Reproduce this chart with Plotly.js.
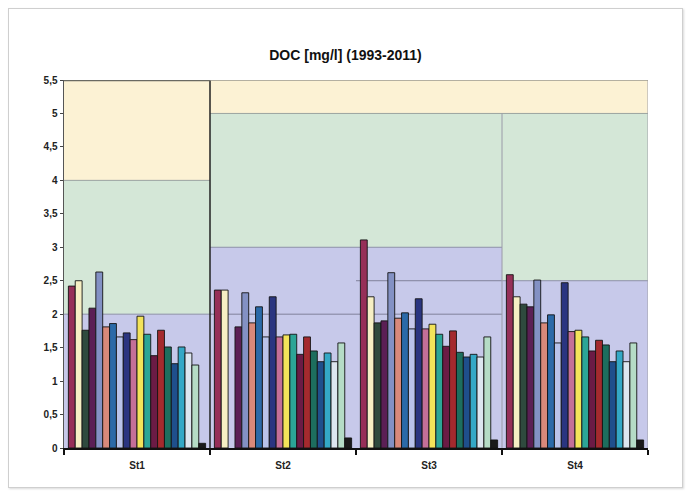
<!DOCTYPE html>
<html>
<head>
<meta charset="utf-8">
<script src="https://cdn.plot.ly/plotly-3.0.1.min.js"></script>
<style>
  html, body { margin: 0; padding: 0; background: #fff; }
  #wrap { position: relative; width: 691px; height: 497px; }
  #chart { position: absolute; left: 0; top: 0; width: 691px; height: 497px; }
  #frame { position: absolute; left: 8px; top: 8px; width: 673px; height: 478px;
           border: 1px solid #cfcfcf; box-shadow: 1px 1px 2px rgba(0,0,0,0.15); pointer-events: none; }
</style>
</head>
<body>
<div id="wrap"><div id="chart"></div><div id="frame"></div></div>
<script>
// ---- data ----
const categories = ['St1', 'St2', 'St3', 'St4'];
const seriesNames = ['Serie 1','Serie 2','Serie 3','Serie 4','Serie 5','Serie 6','Serie 7','Serie 8','Serie 9','Serie 10',
                     'Serie 11','Serie 12','Serie 13','Serie 14','Serie 15','Serie 16','Serie 17','Serie 18','Serie 19','Serie 20'];
const seriesColors = ['#962f58','#f6efc4','#2f4a3e','#5b1f55','#8391c4','#d9897a','#2b6aa8','#b9c3ea','#2a3580','#c46f98',
                      '#f3e35a','#2ca597','#6b1b45','#a42a2e','#1d6e5e','#1f4f8c','#34a8c6','#dde6f0','#b5dcc6','#1a1a1a'];
const valuesSt1 = [2.42, 2.50, 1.76, 2.09, 2.63, 1.81, 1.86, 1.66, 1.72, 1.62, 1.97, 1.70, 1.38, 1.76, 1.51, 1.26, 1.51, 1.42, 1.24, 0.07];
const valuesSt2 = [2.36, 2.36, null, 1.81, 2.32, 1.87, 2.11, 1.66, 2.26, 1.66, 1.69, 1.70, 1.40, 1.66, 1.45, 1.29, 1.42, 1.29, 1.57, 0.15];
const valuesSt3 = [3.11, 2.26, 1.87, 1.90, 2.62, 1.94, 2.02, 1.78, 2.23, 1.78, 1.85, 1.70, 1.52, 1.75, 1.43, 1.36, 1.40, 1.36, 1.66, 0.12];
const valuesSt4 = [2.59, 2.26, 2.15, 2.11, 2.51, 1.87, 1.99, 1.57, 2.47, 1.74, 1.76, 1.66, 1.45, 1.61, 1.54, 1.29, 1.45, 1.29, 1.57, 0.12];
// quality class bands per station (lower limits)
const yellowFrom = [4, 5, 5, 5];
const greenFrom  = [2, 3, 3, 2.5];
const bandTop = 5.5;
// extra reference lines
const refLineGroup = [1, 2, 2];
const refLineValue = [2, 2, 2.5];
const yTickVals = [0,0.5,1,1.5,2,2.5,3,3.5,4,4.5,5,5.5];

// ---- traces ----
const stationValues = [valuesSt1, valuesSt2, valuesSt3, valuesSt4];
const traces = seriesNames.map((name, i) => ({
  type: 'bar',
  name: name,
  x: categories,
  y: stationValues.map(v => v[i]),
  marker: { color: seriesColors[i], line: { color: 'rgba(20,20,20,0.9)', width: 1 } },
  hoverinfo: 'x+y+name'
}));

// ---- background shapes ----
const shapes = [];
categories.forEach((c, g) => {
  const x0 = g - 0.5, x1 = g + 0.5;
  shapes.push({type:'rect', xref:'x', yref:'y', x0, x1, y0:0, y1:greenFrom[g], fillcolor:'#c7c9ea', line:{width:0}, layer:'below'});
  shapes.push({type:'rect', xref:'x', yref:'y', x0, x1, y0:greenFrom[g], y1:yellowFrom[g], fillcolor:'#d4e7d7', line:{width:0}, layer:'below'});
  shapes.push({type:'rect', xref:'x', yref:'y', x0, x1, y0:yellowFrom[g], y1:bandTop, fillcolor:'#fcf2d4', line:{width:0}, layer:'below'});
  shapes.push({type:'line', xref:'x', yref:'y', x0, x1, y0:greenFrom[g], y1:greenFrom[g], line:{color:'#8c8ea8', width:1}, layer:'below'});
  shapes.push({type:'line', xref:'x', yref:'y', x0, x1, y0:yellowFrom[g], y1:yellowFrom[g], line:{color:'#9aa3a0', width:1}, layer:'below'});
});
refLineGroup.forEach((g, k) => {
  shapes.push({type:'line', xref:'x', yref:'y', x0:g-0.5, x1:g+0.5, y0:refLineValue[k], y1:refLineValue[k], line:{color:'#80829a', width:1}, layer:'below'});
});
// station separators and frame
shapes.push({type:'line', xref:'x', yref:'y', x0:0.5, x1:0.5, y0:0, y1:bandTop, line:{color:'#222', width:1.5}, layer:'above'});
shapes.push({type:'line', xref:'x', yref:'y', x0:2.5, x1:2.5, y0:0, y1:yellowFrom[3], line:{color:'#9a9aa8', width:1}, layer:'below'});
shapes.push({type:'line', xref:'x', yref:'y', x0:3.5, x1:3.5, y0:0, y1:bandTop, line:{color:'#a0a0a8', width:1}, layer:'above'});
shapes.push({type:'line', xref:'x', yref:'y', x0:-0.5, x1:0.5, y0:bandTop, y1:bandTop, line:{color:'#6a6a62', width:2.5}, layer:'above'});
shapes.push({type:'line', xref:'x', yref:'y', x0:0.5, x1:3.5, y0:bandTop, y1:bandTop, line:{color:'#9c9a90', width:1.5}, layer:'above'});

const tickFont = { family: 'Liberation Sans Narrow, Liberation Sans, Arial, sans-serif', size: 10, color: '#222', weight: 'bold' };

const layout = {
  width: 691, height: 497,
  margin: { l: 64, r: 43, t: 80, b: 49, pad: 0 },
  paper_bgcolor: '#ffffff',
  plot_bgcolor: '#ffffff',
  separators: ', ',
  showlegend: false,
  barmode: 'group',
  bargap: 0.06,
  bargroupgap: 0,
  title: {
    text: 'DOC [mg/l] (1993-2011)',
    font: { family: 'Liberation Sans Narrow, Liberation Sans, Arial, sans-serif', size: 14, color: '#111', weight: 'bold' },
    x: 0.5, xref: 'container', xanchor: 'center',
    y: 0.889, yref: 'container', yanchor: 'middle'
  },
  xaxis: {
    type: 'category',
    showgrid: false, zeroline: false,
    showline: true, linecolor: '#111', linewidth: 1.5,
    ticks: 'outside', tickson: 'boundaries', ticklen: 5, tickcolor: '#111', tickwidth: 1.2,
    ticklabelstandoff: 7,
    tickfont: tickFont,
    range: [-0.5, 3.5]
  },
  yaxis: {
    range: [0, 5.5],
    tickvals: yTickVals,
    showgrid: false, zeroline: false,
    showline: true, linecolor: '#555', linewidth: 1.5,
    ticks: 'outside', ticklen: 3, tickcolor: '#444',
    tickfont: tickFont
  },
  shapes: shapes
};

Plotly.newPlot('chart', traces, layout, { displayModeBar: false, staticPlot: true });
</script>
</body>
</html>
